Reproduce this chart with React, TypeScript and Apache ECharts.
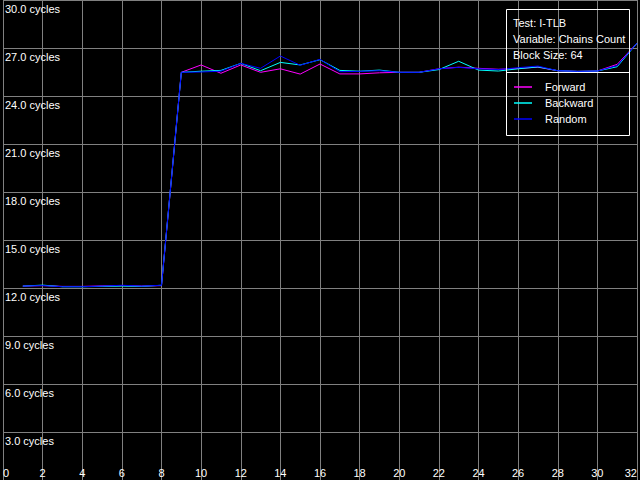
import React, { useEffect, useRef } from "react";
import * as echarts from "echarts";

const xValues = [1, 2, 3, 4, 5, 6, 7, 8, 9, 10, 11, 12, 13, 14, 15, 16, 17, 18, 19, 20, 21, 22, 23, 24, 25, 26, 27, 28, 29, 30, 31, 32];
const forward = [12.12, 12.15, 12.1, 12.1, 12.13, 12.15, 12.12, 12.15, 25.48, 25.94, 25.42, 25.94, 25.48, 25.7, 25.37, 26.0, 25.38, 25.38, 25.45, 25.48, 25.48, 25.7, 25.8, 25.73, 25.67, 25.72, 25.8, 25.58, 25.54, 25.56, 25.98, 27.3];
const backward = [12.12, 12.18, 12.08, 12.08, 12.1, 12.12, 12.1, 12.17, 25.48, 25.55, 25.6, 26.04, 25.58, 26.1, 25.94, 26.27, 25.6, 25.55, 25.62, 25.48, 25.48, 25.65, 26.17, 25.62, 25.56, 25.7, 25.82, 25.58, 25.54, 25.56, 25.83, 27.3];
const random = [12.12, 12.15, 12.08, 12.08, 12.12, 12.17, 12.12, 12.17, 25.48, 25.5, 25.55, 26.04, 25.73, 26.5, 25.92, 26.29, 25.52, 25.54, 25.58, 25.48, 25.48, 25.7, 25.79, 25.7, 25.65, 25.77, 25.87, 25.58, 25.54, 25.56, 25.9, 27.3];
const seriesNames = ["Forward", "Backward", "Random"];
const seriesColors = ["#ff00ff", "#00ffff", "#0000ff"];
const infoLines = ["Test: I-TLB", "Variable: Chains Count", "Block Size: 64"];

const FONT = "'Liberation Sans', Arial, sans-serif";

export default function App() {
  const ref = useRef<HTMLDivElement>(null);
  useEffect(() => {
    if (!ref.current) return;
    const chart = echarts.init(ref.current, undefined, { renderer: "svg" });
    const datasets = [forward, backward, random];
    chart.setOption({
      animation: false,
      backgroundColor: "#000000",
      grid: { left: 0, right: 0, top: 0, bottom: 0, containLabel: false },
      xAxis: {
        type: "value",
        min: 0,
        max: 32,
        interval: 2,
        axisLine: { show: false },
        axisTick: { show: false },
        splitLine: { show: true, lineStyle: { color: "#808080", width: 1 } },
        axisLabel: {
          inside: true,
          margin: 2,
          color: "#ffffff",
          fontFamily: FONT,
          fontSize: 11,
          showMinLabel: true,
          showMaxLabel: true,
          alignMinLabel: "left",
          alignMaxLabel: "right",
        },
      },
      yAxis: {
        type: "value",
        min: 0,
        max: 30,
        interval: 3,
        axisLine: { show: false },
        axisTick: { show: false },
        splitLine: { show: true, lineStyle: { color: "#808080", width: 1 } },
        axisLabel: {
          inside: true,
          margin: 2,
          color: "#ffffff",
          fontFamily: FONT,
          fontSize: 11,
          verticalAlign: "top",
          padding: [3, 0, 0, 0],
          showMaxLabel: true,
          formatter: (v: number) => (v === 0 ? "" : v.toFixed(1) + " cycles"),
        },
      },
      legend: {
        show: true,
        orient: "vertical",
        left: 514,
        top: 80,
        padding: 0,
        icon: "rect",
        itemWidth: 18,
        itemHeight: 1.5,
        itemGap: 2,
        data: seriesNames,
        textStyle: {
          color: "#ffffff",
          fontFamily: FONT,
          fontSize: 11,
          lineHeight: 14,
          padding: [0, 0, 0, 8],
        },
      },
      graphic: [
        {
          type: "rect",
          shape: { x: 506.5, y: 9.5, width: 123, height: 126 },
          style: { fill: "none", stroke: "#ffffff", lineWidth: 1 },
          z: 10,
        },
        {
          type: "line",
          shape: { x1: 506.5, y1: 72.5, x2: 629.5, y2: 72.5 },
          style: { stroke: "#ffffff", lineWidth: 1 },
          z: 10,
        },
        ...infoLines.map((t, i) => ({
          type: "text",
          x: 513,
          y: 23 + i * 16,
          z: 10,
          style: {
            text: t,
            fill: "#ffffff",
            font: `11px ${FONT}`,
            verticalAlign: "middle",
            align: "left",
          },
        })),
      ],
      series: seriesNames.map((name, i) => ({
        name,
        type: "line",
        symbol: "none",
        showSymbol: false,
        color: seriesColors[i],
        lineStyle: { color: seriesColors[i], width: 1 },
        data: xValues.map((x, j) => [x, datasets[i][j]]),
      })),
    });
    return () => chart.dispose();
  }, []);
  return (
    <div
      ref={ref}
      style={{ position: "fixed", left: 0, top: 0, width: 640, height: 480 }}
    />
  );
}
